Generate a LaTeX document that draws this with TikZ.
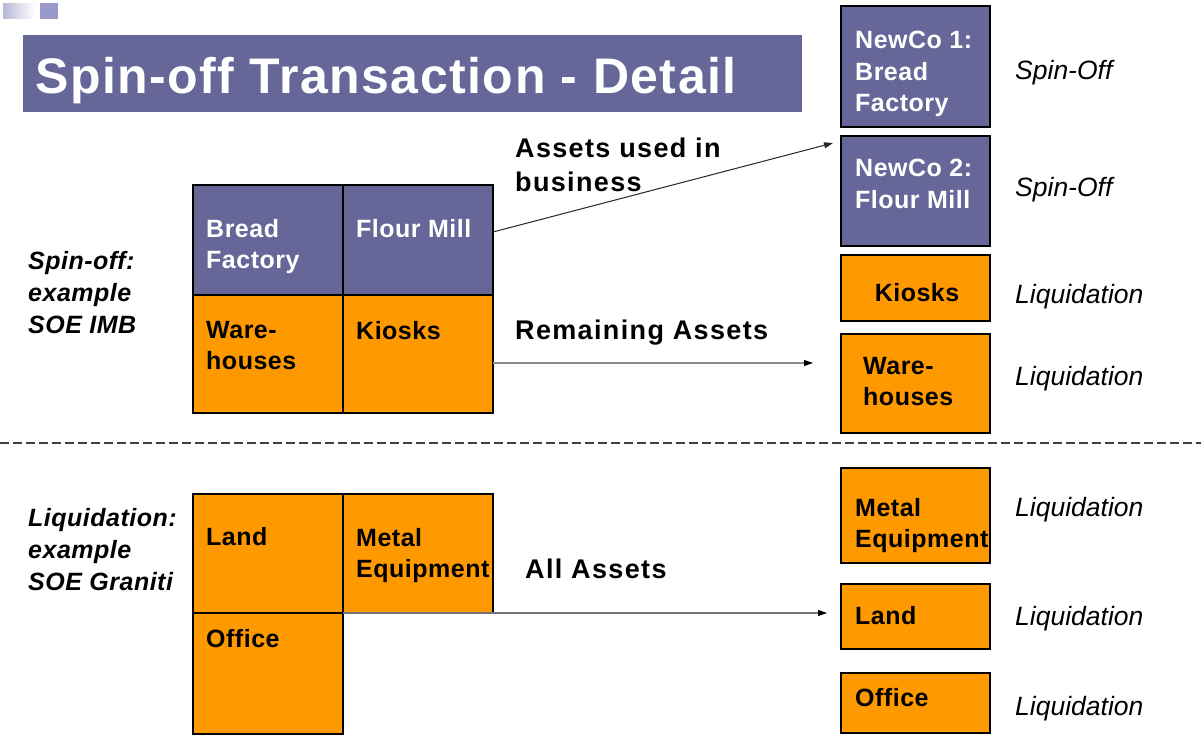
\documentclass[tikz,border=0pt]{standalone}
\usepackage{fontspec}
\setmainfont{Liberation Sans}
\newfontfamily\ttlfont[LetterSpace=3]{Liberation Sans}
\newfontfamily\boxfont[LetterSpace=2]{Liberation Sans}
\newfontfamily\midfont[LetterSpace=5]{Liberation Sans}
\usetikzlibrary{arrows.meta,calc}
\definecolor{pp}{HTML}{666699}
\definecolor{orng}{HTML}{FF9900}
\definecolor{lav}{HTML}{9999CC}
\definecolor{lavl}{HTML}{B8B8D8}
\tikzset{
  pbox/.style={draw=black,line width=1.3pt,fill=pp,anchor=north west,inner sep=0pt,outer sep=0pt},
  obox/.style={draw=black,line width=1.3pt,fill=orng,anchor=north west,inner sep=0pt,outer sep=0pt},
  wtxt/.style={text=white,font=\boxfont\bfseries\fontsize{25}{31.5}\selectfont,align=left,inner sep=0pt,anchor=north west},
  btxt/.style={text=black,font=\boxfont\bfseries\fontsize{25}{31.5}\selectfont,align=left,inner sep=0pt,anchor=north west},
  midtxt/.style={text=black,font=\midfont\bfseries\fontsize{27}{34}\selectfont,align=left,inner sep=0pt},
  sidetxt/.style={text=black,font=\boxfont\bfseries\itshape\fontsize{25}{32}\selectfont,align=left,inner sep=0pt,anchor=north west},
  restxt/.style={text=black,font=\itshape\fontsize{26.5}{32}\selectfont,inner sep=0pt,anchor=base west},
  arr/.style={line width=1pt,-{Triangle[length=9pt,width=6pt]}},
}
\begin{document}
\begin{tikzpicture}[x=1pt,y=-1pt]
\useasboundingbox (0,0) rectangle (1201,734);
\fill[white] (0,0) rectangle (1201,734);
% decoration
\shade[left color=lavl,right color=white] (3,3) rectangle (35,18);
\fill[lav] (40,3) rectangle (58,19);
% title
\node[fill=pp,anchor=north west,minimum width=779pt,minimum height=77pt,inner sep=0pt] (title) at (23,35) {};
\node[text=white,font=\ttlfont\bfseries\fontsize{50}{60}\selectfont,anchor=base west,inner sep=0pt] (titletxt) at (35,93) {Spin-off Transaction - Detail};
% top-left grid
\node[pbox,minimum width=150pt,minimum height=110pt] (bf) at (193,185) {};
\node[pbox,minimum width=150pt,minimum height=110pt] (fm) at (343,185) {};
\node[obox,minimum width=150pt,minimum height=118pt] (wh) at (193,295) {};
\node[obox,minimum width=150pt,minimum height=118pt] (ki) at (343,295) {};
\node[wtxt] (bft) at (206,219) {Bread\\Factory};
\node[wtxt] (fmt) at (356,219) {Flour Mill};
\node[btxt] (wht) at (206,321) {Ware-\\houses};
\node[btxt] (kit) at (356,321) {Kiosks};
% side labels
\node[sidetxt] (s1) at (28,251) {Spin-off:\\example\\SOE IMB};
\node[sidetxt] (s2) at (28,508) {Liquidation:\\example\\SOE Graniti};
% right column
\node[pbox,minimum width=149pt,minimum height=121pt] (n1) at (841,6) {};
\node[pbox,minimum width=149pt,minimum height=110pt] (n2) at (841,136) {};
\node[obox,minimum width=149pt,minimum height=66pt] (rk) at (841,255) {};
\node[obox,minimum width=149pt,minimum height=99pt] (rw) at (841,334) {};
\node[obox,minimum width=149pt,minimum height=95pt] (rme) at (841,468) {};
\node[obox,minimum width=149pt,minimum height=65pt] (rl) at (841,584) {};
\node[obox,minimum width=149pt,minimum height=60pt] (ro) at (841,673) {};
\node[wtxt] (n1t) at (855,31) {NewCo 1:\\Bread\\Factory};
\node[wtxt] (n2t) at (855,159) {NewCo 2:\\Flour Mill};
\node[btxt,anchor=center] (rkt) at (917,293) {Kiosks};
\node[btxt] (rwt) at (863,357) {Ware-\\houses};
\node[btxt] (rmet) at (855,498) {Metal\\Equipment};
\node[btxt,anchor=west] (rlt) at (855,616) {Land};
\node[btxt,anchor=west] (rot) at (855,698) {Office};
% result labels
\node[restxt] (l1) at (1015,79.5) {Spin-Off};
\node[restxt] (l2) at (1015,196.5) {Spin-Off};
\node[restxt] (l3) at (1015,303.5) {Liquidation};
\node[restxt] (l4) at (1015,385.5) {Liquidation};
\node[restxt] (l5) at (1015,516.5) {Liquidation};
\node[restxt] (l6) at (1015,625.5) {Liquidation};
\node[restxt] (l7) at (1015,715.5) {Liquidation};
% dashed separator
\coordinate (dl) at (0,443);
\coordinate (dr) at (1201,443);
\draw[line width=1.5pt,black!75,dash pattern=on 9pt off 4pt] (dl) -- (dr);
% bottom-left grid
\node[obox,minimum width=150pt,minimum height=119pt] (ld) at (193,494) {};
\node[obox,minimum width=150pt,minimum height=119pt] (me) at (343,494) {};
\node[obox,minimum width=150pt,minimum height=121pt] (of) at (193,613) {};
\node[btxt,anchor=west] (ldt) at (206,537) {Land};
\node[btxt] (met) at (356,528) {Metal\\Equipment};
\node[btxt] (oft) at (206,629) {Office};
% middle texts
\node[midtxt,anchor=north west] (aub) at (515,138) {Assets used in\\business};
\node[midtxt,anchor=base west] (ra) at (515,339.5) {Remaining Assets};
\node[midtxt,anchor=base west] (aa) at (525,578.5) {All Assets};
% arrows
\coordinate (a1s) at (493,232);
\coordinate (a1e) at (833,143);
\coordinate (a2s) at (493,363);
\coordinate (a2e) at (813,363);
\coordinate (a3e) at (827,613);
\draw[arr,black!85] (a1s) -- (a1e);
\draw[line width=1.6pt,black!45] (a2s) -- ($(a2e)+(-8,0)$);
\draw[arr,black] ($(a2e)+(-9,0)$) -- (a2e);
\draw[line width=1.4pt,black!55] (me.south west) -- ($(a3e)+(-8,0)$);
\draw[arr,black] ($(a3e)+(-9,0)$) -- (a3e);
\end{tikzpicture}
\end{document}
